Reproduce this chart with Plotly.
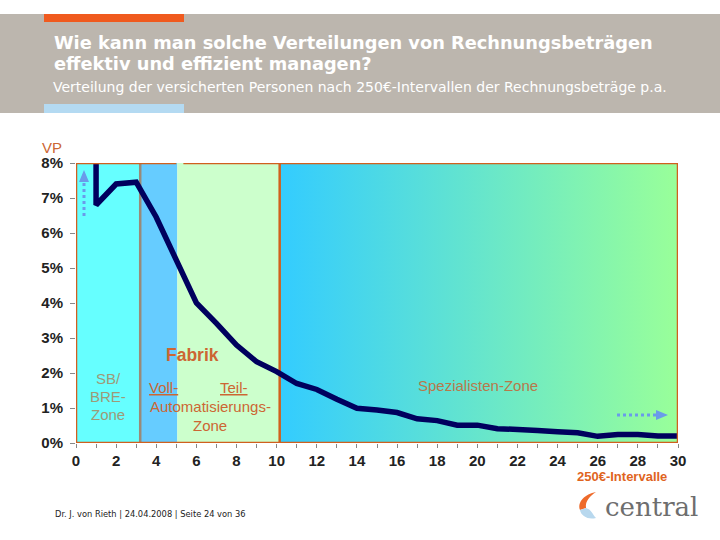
import plotly.graph_objects as go

# ---------------- data ----------------
interval = [1, 1, 2, 3, 4, 5, 6, 7, 8, 9, 10, 11, 12, 13, 14, 15,
            16, 17, 18, 19, 20, 21, 22, 23, 24, 25, 26, 27, 28, 29, 30]
share_pct = [12.0, 6.8, 7.4, 7.45, 6.45, 5.25, 4.0, 3.42, 2.8, 2.32, 2.04,
             1.70, 1.53, 1.25, 0.99, 0.94, 0.87, 0.69, 0.64, 0.51, 0.51,
             0.41, 0.40, 0.36, 0.32, 0.29, 0.19, 0.24, 0.24, 0.20, 0.20]

zone_edges = [0, 3.2, 5.05, 10.15, 30]
zone_colors = ["#66FFFF", "#66CCFF", "#CCFFCC"]
gradient_colors = ["#33CCFF", "#99FF99"]

x_ticks = list(range(0, 31, 2))
y_ticks = list(range(0, 9))
y_tick_text = [f"{v}%" for v in y_ticks]

W, H = 720, 540
L, R, T, B = 76, 42, 163, 97
PW, PH = W - L - R, H - T - B


def px(x):
    return (x - L) / PW


def py(y):
    return (H - B - y) / PH


ORANGE = "#D0601E"
TXT_OR = "#CC6633"

fig = go.Figure()

# solid zones
for i, c in enumerate(zone_colors):
    x0, x1 = zone_edges[i], zone_edges[i + 1]
    fig.add_trace(go.Scatter(x=[x0, x1, x1, x0, x0], y=[0, 0, 8, 8, 0],
                             fill="toself", fillcolor=c, mode="lines",
                             line=dict(width=0), hoverinfo="skip", showlegend=False))
# gradient zone
x0, x1 = zone_edges[3], zone_edges[4]
fig.add_trace(go.Scatter(x=[x0, x1, x1, x0, x0], y=[0, 0, 8, 8, 0],
                         fill="toself", mode="lines", line=dict(width=0),
                         fillgradient=dict(type="horizontal",
                                           colorscale=[[0, gradient_colors[0]],
                                                       [1, gradient_colors[1]]]),
                         hoverinfo="skip", showlegend=False))
# internal borders
fig.add_trace(go.Scatter(x=[zone_edges[1], zone_edges[1]], y=[0, 8], mode="lines",
                         line=dict(color="#9A8A78", width=2.5), hoverinfo="skip",
                         showlegend=False))
fig.add_trace(go.Scatter(x=[zone_edges[3], zone_edges[3]], y=[0, 8], mode="lines",
                         line=dict(color=ORANGE, width=2.5), hoverinfo="skip",
                         showlegend=False))

# data line
fig.add_trace(go.Scatter(x=interval, y=share_pct, mode="lines",
                         line=dict(color="#00005E", width=5.5), showlegend=False))

shapes = []
# frame
for seg in [(0, 0, 0, 8), (30, 30, 0, 8), (0, 30, 0, 0), (0, 5.0, 8, 8), (5.35, 30, 8, 8)]:
    shapes.append(dict(type="line", xref="x", yref="y", x0=seg[0], x1=seg[1],
                       y0=seg[2], y1=seg[3], line=dict(color=ORANGE, width=2.5),
                       layer="above"))

# header band
shapes.append(dict(type="rect", xref="paper", yref="paper", x0=px(0), x1=px(720),
                   y0=py(113), y1=py(14), fillcolor="#BCB6AE", line=dict(width=0),
                   layer="below"))
shapes.append(dict(type="rect", xref="paper", yref="paper", x0=px(44), x1=px(184),
                   y0=py(22), y1=py(14), fillcolor="#F05A1E", line=dict(width=0)))
shapes.append(dict(type="rect", xref="paper", yref="paper", x0=px(44), x1=px(184),
                   y0=py(113), y1=py(104), fillcolor="#B4DAF2", line=dict(width=0)))

# dotted arrows
ARR = "#6A9BEA"
shapes.append(dict(type="line", xref="paper", yref="paper", x0=px(84), x1=px(84),
                   y0=py(216), y1=py(180), line=dict(color=ARR, width=3, dash="dot"),
                   layer="above"))
shapes.append(dict(type="path", xref="paper", yref="paper",
                   path=f"M {px(79)} {py(182)} L {px(89)} {py(182)} L {px(84)} {py(170)} Z",
                   fillcolor=ARR, line=dict(width=0), layer="above"))
shapes.append(dict(type="line", xref="paper", yref="paper", x0=px(617), x1=px(657),
                   y0=py(415), y1=py(415), line=dict(color=ARR, width=3, dash="dot"),
                   layer="above"))
shapes.append(dict(type="path", xref="paper", yref="paper",
                   path=f"M {px(656)} {py(410)} L {px(656)} {py(420)} L {px(668)} {py(415)} Z",
                   fillcolor=ARR, line=dict(width=0), layer="above"))

# logo flame
shapes.append(dict(type="path", xref="paper", yref="paper",
                   path=(f"M {px(596)} {py(492)} C {px(585)} {py(494)} {px(577)} {py(502)} "
                         f"{px(580)} {py(510)} L {px(586)} {py(508)} C {px(585)} {py(501)} "
                         f"{px(590)} {py(496)} {px(596)} {py(492)} Z"),
                   fillcolor="#EE6A2A", line=dict(width=0)))
shapes.append(dict(type="path", xref="paper", yref="paper",
                   path=(f"M {px(580)} {py(510)} C {px(581)} {py(516)} {px(588)} {py(520)} "
                         f"{px(596)} {py(518)} C {px(592)} {py(514)} {px(592)} {py(510)} "
                         f"{px(586)} {py(508)} Z"),
                   fillcolor="#B8D8EE", line=dict(width=0)))

ann = []


def text(x, y, s, size, color, family="Liberation Sans", xanchor="center",
         weight="normal"):
    ann.append(dict(x=px(x), y=py(y), xref="paper", yref="paper", text=s,
                    showarrow=False, xanchor=xanchor, yanchor="middle",
                    font=dict(size=size, color=color, family=family, weight=weight)))


text(52, 42, "Wie kann man solche Verteilungen von Rechnungsbeträgen", 17.8, "white",
     family="DejaVu Sans", xanchor="left", weight="bold")
text(52, 64, "effektiv und effizient managen?", 17.8, "white",
     family="DejaVu Sans", xanchor="left", weight="bold")
text(51, 87, "Verteilung der versicherten Personen nach 250€-Intervallen der Rechnungsbeträge p.a.",
     14, "white", family="DejaVu Sans", xanchor="left")

text(52, 147, "VP", 15, TXT_OR)
text(108, 378, "SB/", 15, "#9E9A78")
text(108, 396, "BRE-", 15, "#9E9A78")
text(108, 414, "Zone", 15, "#9E9A78")
text(192, 355, "Fabrik", 17.5, TXT_OR, weight="bold")
text(163, 387, "<u>Voll-</u>", 15, TXT_OR)
text(234, 387, "<u>Teil-</u>", 15, TXT_OR)
text(210, 406, "Automatisierungs-", 15, TXT_OR)
text(210, 425, "Zone", 15, TXT_OR)
text(478, 385, "Spezialisten-Zone", 15, "#B8794A")
text(622, 476, "250€-Intervalle", 13, "#E0641E", weight="bold")
text(53, 514, "Dr. J. von Rieth | 24.04.2008 | Seite 24 von 36", 8.3, "#222222",
     family="DejaVu Sans", xanchor="left")
text(603, 507, "central", 26, "#6E6E6E", family="DejaVu Serif", xanchor="left")

fig.update_layout(
    width=W, height=H, autosize=False,
    margin=dict(l=L, r=R, t=T, b=B),
    paper_bgcolor="white", plot_bgcolor="white",
    shapes=shapes, annotations=ann,
    xaxis=dict(range=[0, 30], tickvals=x_ticks, ticks="outside", ticklen=4,
               tickcolor="#888888", showgrid=False, zeroline=False, showline=False,
               minor=dict(dtick=1, tick0=0, ticks="outside", ticklen=4, tickcolor="#888888"),
               tickfont=dict(family="Liberation Sans", size=15, color="#222222",
                             weight="bold")),
    yaxis=dict(range=[0, 8], tickvals=y_ticks, ticktext=y_tick_text, ticks="outside",
               ticklen=5, tickcolor="#888888", showgrid=False, zeroline=False,
               showline=False, ticklabelstandoff=4,
               tickfont=dict(family="Liberation Sans", size=15, color="#222222",
                             weight="bold")),
)

fig.write_html("out.html", config={"displayModeBar": False},
               post_script="document.body.style.margin='0px';")
